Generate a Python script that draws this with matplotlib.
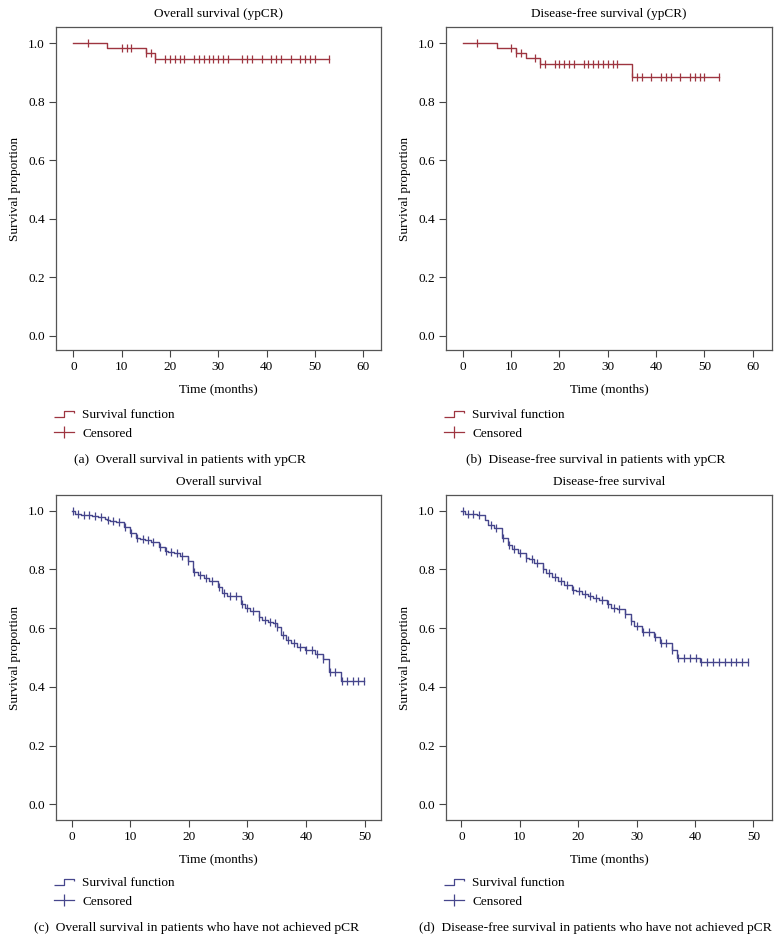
import numpy as np
import matplotlib
matplotlib.use('Agg')
from matplotlib import pyplot as plt
from matplotlib.path import Path
from matplotlib.lines import Line2D

plt.rcParams['font.family'] = ['Liberation Serif', 'DejaVu Serif']

# (a) overall survival, ypCR
a_times = [7, 15, 17]
a_surv = [0.983, 0.966, 0.947]
a_cens = [3, 10, 11, 12, 15, 16, 17, 19, 20, 21, 22, 23, 25, 26, 27, 28, 29, 30, 31, 32,
          35, 36, 37, 39, 41, 42, 43, 45, 47, 48, 49, 50, 53]

# (b) disease-free survival, ypCR
b_times = [7, 11, 13, 16, 35]
b_surv = [0.983, 0.966, 0.949, 0.930, 0.886]
b_cens = [3, 10, 11, 12, 15, 16, 17, 19, 20, 21, 22, 23, 25, 26, 27, 28, 29, 30, 31, 32,
          35, 36, 37, 39, 41, 42, 43, 45, 47, 48, 49, 50, 53]

# (c) overall survival, no pCR
c_times = [0.6, 1.5, 2.5, 3.5, 4.5, 5.7, 6.0, 6.6, 7.5, 8.9, 9.9, 11.0, 11.7, 12.5, 13.5,
           14.9, 15.9, 16.5, 17.5, 18.5, 19.9, 20.75, 21.5, 22.5, 23.5, 25.0, 25.6, 26.5,
           28.9, 29.5, 30.5, 32.0, 32.5, 33.5, 34.3, 35.0, 35.8, 36.5, 37.5, 38.5, 39.8,
           41.5, 42.9, 43.9, 46.0]
c_surv = [0.989, 0.986, 0.984, 0.982, 0.979, 0.971, 0.968, 0.966, 0.961, 0.943, 0.925,
          0.908, 0.902, 0.900, 0.894, 0.877, 0.863, 0.859, 0.855, 0.846, 0.830, 0.792,
          0.781, 0.770, 0.762, 0.739, 0.721, 0.709, 0.682, 0.667, 0.659, 0.637, 0.628,
          0.622, 0.618, 0.605, 0.577, 0.560, 0.548, 0.537, 0.526, 0.512, 0.494, 0.452, 0.420]
c_cens = [0.2, 1.1, 2.0, 2.9, 3.9, 4.9, 6.2, 7.0, 8.0, 9.1, 10.1, 11.2, 12.1, 13.0, 13.9,
          15.1, 16.1, 16.9, 17.9, 18.9, 19.9, 20.9, 21.9, 22.9, 23.9, 25.2, 26.0, 27.0,
          28.0, 29.0, 30.0, 31.0, 32.0, 33.0, 33.8, 34.7, 35.0, 36.1, 37.0, 38.0, 39.0,
          40.0, 41.0, 41.8, 42.9, 44.1, 44.9, 46.1, 47.0, 48.0, 48.9, 49.9]

# (d) disease-free survival, no pCR
d_times = [0.6, 1.6, 2.6, 4.0, 4.6, 5.6, 7.0, 8.0, 8.6, 9.6, 11.0, 11.5, 12.5, 13.9, 14.5,
           15.5, 16.5, 17.5, 19.0, 19.6, 20.6, 21.6, 22.6, 23.6, 25.0, 25.6, 26.6, 28.0,
           29.0, 29.6, 31.0, 33.0, 34.0, 36.0, 37.0, 40.9]
d_surv = [0.990, 0.987, 0.984, 0.968, 0.951, 0.940, 0.908, 0.883, 0.868, 0.855, 0.840,
          0.836, 0.823, 0.801, 0.786, 0.773, 0.761, 0.748, 0.731, 0.725, 0.717, 0.708,
          0.702, 0.696, 0.682, 0.668, 0.664, 0.648, 0.623, 0.608, 0.588, 0.570, 0.549,
          0.525, 0.500, 0.485]
d_cens = [0.2, 1.2, 2.0, 3.0, 5.0, 6.0, 7.1, 8.2, 9.0, 10.0, 11.1, 12.0, 13.0, 14.0, 15.0,
          16.0, 17.0, 18.0, 19.1, 20.1, 21.1, 22.1, 23.0, 24.0, 25.1, 26.1, 27.0, 28.1,
          29.1, 30.1, 31.1, 32.2, 33.1, 34.1, 35.1, 36.1, 37.1, 38.1, 39.1, 40.1, 41.1,
          42.1, 43.1, 44.1, 45.1, 46.1, 47.1, 48.0, 49.1]

red = '#9e3540'
blue = '#46468c'
W, H = 780., 940.
fs = 9.5

# little step glyph used in the legend
step_glyph = Path([(-1, -0.3), (0, -0.3), (0, 0.3), (1, 0.3), (1, 0.05)],
                  [Path.MOVETO, Path.LINETO, Path.LINETO, Path.LINETO, Path.LINETO])


def px_axes(fig, l, t, r, b):
    return fig.add_axes([l/W, 1 - b/H, (r - l)/W, (b - t)/H])


def draw_km(ax, times, surv, cens, col, title, xlim, ylim, xmax_tick, leg_y):
    tt = np.concatenate([[0.], times, [max(cens)]])
    ss = np.concatenate([[1.], surv, [surv[-1]]])
    ax.step(tt, ss, where='post', color=col, lw=1.0)
    # censor marks sit on the curve
    idx = np.searchsorted(tt[:-1], cens, side='right') - 1
    ax.plot(cens, ss[idx], ls='none', marker='|', ms=5.5, mew=0.9, color=col)
    ax.set_xlim(xlim)
    ax.set_ylim(ylim)
    ax.set_xticks(np.arange(0, xmax_tick + 1, 10))
    ax.set_yticks(np.arange(0, 1.01, 0.2))
    ax.set_yticklabels(['%.1f' % v for v in np.arange(0, 1.01, 0.2)])
    ax.tick_params(direction='out', length=5, width=0.8, color='#444444', labelsize=fs,
                   pad=3)
    for sp in ax.spines.values():
        sp.set_color('#555555')
        sp.set_linewidth(0.9)
    ax.set_title(title, fontsize=fs, pad=7.5)
    ax.set_xlabel('Time (months)', fontsize=fs, labelpad=7)
    ax.set_ylabel('Survival proportion', fontsize=fs, labelpad=5)
    h1 = Line2D([], [], ls='none', marker=step_glyph, ms=15, mew=0.9, color=col,
                fillstyle='none')
    h2 = Line2D([], [], ls='-', lw=0.9, marker='|', ms=8, mew=0.9, color=col)
    ax.legend([h1, h2], ['Survival function', 'Censored'], loc='upper left',
              bbox_to_anchor=(-0.005, leg_y), frameon=False, fontsize=fs,
              handlelength=1.5, handletextpad=0.6, labelspacing=0.45,
              borderpad=0, borderaxespad=0)


fig = plt.figure(figsize=(7.8, 9.4), dpi=100)

ax1 = px_axes(fig, 56, 27, 381, 350)
draw_km(ax1, a_times, a_surv, a_cens, red, 'Overall survival (ypCR)',
        (-3.6, 63.7), (-0.048, 1.056), 60, -0.183)
ax2 = px_axes(fig, 446, 27, 772, 350)
draw_km(ax2, b_times, b_surv, b_cens, red, 'Disease-free survival (ypCR)',
        (-3.5, 64.0), (-0.048, 1.056), 60, -0.183)
ax3 = px_axes(fig, 56, 495, 381, 820)
draw_km(ax3, c_times, c_surv, c_cens, blue, 'Overall survival',
        (-2.7, 52.8), (-0.053, 1.053), 50, -0.176)
ax4 = px_axes(fig, 446, 495, 772, 820)
draw_km(ax4, d_times, d_surv, d_cens, blue, 'Disease-free survival',
        (-2.65, 53.2), (-0.053, 1.053), 50, -0.176)

cap_fs = 9.7
fig.text(190/W, 1 - 460/H, '(a)  Overall survival in patients with ypCR',
         ha='center', va='center', fontsize=cap_fs)
fig.text(596/W, 1 - 460/H, '(b)  Disease-free survival in patients with ypCR',
         ha='center', va='center', fontsize=cap_fs)
fig.text(197/W, 1 - 928/H, '(c)  Overall survival in patients who have not achieved pCR',
         ha='center', va='center', fontsize=cap_fs)
fig.text(595/W, 1 - 928/H, '(d)  Disease-free survival in patients who have not achieved pCR',
         ha='center', va='center', fontsize=cap_fs)

fig.savefig('out.png', dpi=100)
